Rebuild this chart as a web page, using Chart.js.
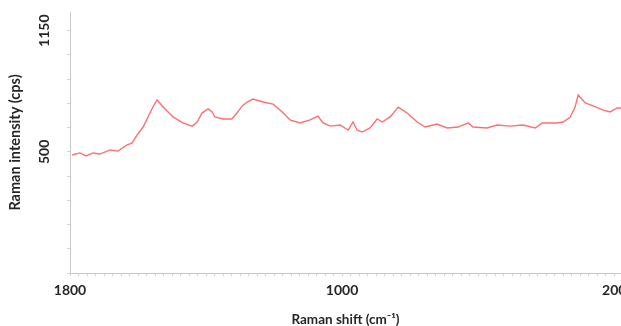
<!DOCTYPE html>
<html>
<head>
<meta charset="utf-8">
<script src="https://cdn.jsdelivr.net/npm/chart.js@4/dist/chart.umd.min.js"></script>
<style>
  html, body { margin: 0; padding: 0; background: #fff; width: 621px; height: 326px; overflow: hidden; }
  #wrap { position: absolute; left: 0; top: 0; width: 660px; height: 326px; }
</style>
</head>
<body>
<div id="wrap"><canvas id="c" width="660" height="326"></canvas></div>
<script>
// Raman spectrum: shift (cm-1) and intensity (cps)
const shiftCm = [1794, 1771, 1753, 1732, 1712, 1682, 1659, 1632, 1618, 1603, 1585, 1565, 1553, 1544,
  1526, 1497, 1468, 1441, 1426, 1412, 1394, 1382, 1374, 1350, 1324, 1309, 1294, 1279, 1262, 1232,
  1203, 1176, 1153, 1124, 1094, 1071, 1056, 1035, 1006, 982, 968, 956, 941, 918, 897, 882, 859,
  835, 809, 779, 756, 721, 691, 659, 629, 615, 574, 544, 506, 468, 432, 412, 368, 350, 329, 315,
  306, 285, 262, 232, 212, 191, 180];
const intensityCps = [483, 494, 478, 494, 488, 510, 504, 537, 547, 590, 633, 708, 751, 778,
  740, 687, 655, 638, 660, 708, 730, 714, 687, 676, 676, 708, 746, 767, 783, 767,
  756, 714, 671, 655, 671, 692, 655, 638, 644, 617, 660, 617, 606, 628, 676, 660, 687,
  740, 708, 660, 633, 649, 628, 633, 655, 633, 628, 644, 638, 644, 628, 655, 655, 660, 687, 740,
  805, 762, 746, 724, 714, 735, 735];

const xTickLabels = [1800, 1000, 200];
const yTickLabels = [500, 1150];
const xRange = [180, 1800];
const yRange = [-150, 1250];
const xMinorStep = 25;
const yMinorStep = 130;

const points = shiftCm.map((s, i) => ({ x: s, y: intensityCps[i] }));
const textColor = '#262626';
const axisColor = '#c8c8c8';
const fontFamily = 'Lato, "Open Sans", sans-serif';

// vertical tick labels on the intensity axis, read bottom-to-top
const rotatedYLabels = {
  id: 'rotatedYLabels',
  afterDraw(chart) {
    const ctx = chart.ctx;
    const ys = chart.scales.y;
    ctx.save();
    ctx.fillStyle = textColor;
    ctx.font = 'bold 14px ' + fontFamily;
    ctx.textAlign = 'center';
    ctx.textBaseline = 'middle';
    yTickLabels.forEach(v => {
      ctx.save();
      ctx.translate(44, ys.getPixelForValue(v));
      ctx.rotate(-Math.PI / 2);
      ctx.fillText(String(v), 0, 0);
      ctx.restore();
    });
    ctx.restore();
  }
};

new Chart(document.getElementById('c'), {
  type: 'scatter',
  data: {
    datasets: [{
      data: points,
      showLine: true,
      borderColor: 'rgba(255, 70, 70, 0.78)',
      borderWidth: 1.4,
      pointRadius: 0,
      tension: 0
    }]
  },
  options: {
    responsive: false,
    animation: false,
    devicePixelRatio: 1,
    layout: { padding: { left: 0, top: 12, right: 39, bottom: 0 } },
    plugins: { legend: { display: false }, tooltip: { enabled: false } },
    scales: {
      x: {
        type: 'linear',
        reverse: true,
        min: xRange[0],
        max: xRange[1],
        afterBuildTicks(scale) {
          const t = [];
          for (let v = xRange[1]; v >= xRange[0]; v -= xMinorStep) t.push({ value: v });
          scale.ticks = t;
        },
        afterFit(scale) { scale.height = 53; },
        grid: { drawOnChartArea: false, drawTicks: true, tickLength: 3, color: '#d4d4d4' },
        border: { display: true, color: axisColor, width: 1 },
        ticks: {
          autoSkip: false, maxRotation: 0, minRotation: 0, padding: 6,
          color: textColor,
          font: { family: fontFamily, size: 14, weight: 'bold' },
          callback: v => xTickLabels.includes(v) ? String(v) : ''
        },
        title: {
          display: true,
          text: 'Raman shift (cm\u207B\u00B9)',
          color: textColor,
          font: { family: fontFamily, size: 13.5, weight: 'bold', lineHeight: 1 },
          padding: { top: 0, bottom: 0 }
        }
      },
      y: {
        type: 'linear',
        min: yRange[0],
        max: yRange[1],
        afterBuildTicks(scale) {
          const t = [];
          for (let v = yRange[0]; v <= yRange[1]; v += yMinorStep) t.push({ value: v });
          scale.ticks = t;
        },
        afterFit(scale) { scale.width = 70; },
        grid: { drawOnChartArea: false, drawTicks: true, tickLength: 3, color: '#d4d4d4' },
        border: { display: true, color: axisColor, width: 1 },
        ticks: { display: false },
        title: {
          display: true,
          text: 'Raman intensity (cps)',
          color: textColor,
          font: { family: fontFamily, size: 14.5, weight: 'bold', lineHeight: 1 },
          padding: { top: 8.5, bottom: 0 }
        }
      }
    }
  },
  plugins: [rotatedYLabels]
});
</script>
</body>
</html>
